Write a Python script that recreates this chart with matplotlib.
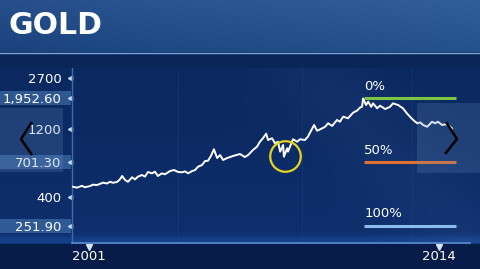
import matplotlib
matplotlib.use("Agg")
import matplotlib.pyplot as plt
import numpy as np
from matplotlib.patches import Rectangle

# --- data (decimal years, USD/oz) ---
years = [2000.41, 2000.55, 2000.74, 2000.85, 2001.04, 2001.15, 2001.30, 2001.52, 2001.67, 2001.78,
         2001.89, 2002.04, 2002.15, 2002.23, 2002.34, 2002.45, 2002.60, 2002.71, 2002.82, 2002.97,
         2003.08, 2003.19, 2003.34, 2003.45, 2003.56, 2003.71, 2003.82, 2004.01, 2004.16, 2004.31,
         2004.45, 2004.57, 2004.68, 2004.83, 2004.94, 2005.05, 2005.20, 2005.31, 2005.42, 2005.53,
         2005.64, 2005.76, 2005.87, 2005.98, 2006.13, 2006.35, 2006.61, 2006.79, 2006.91, 2007.09,
         2007.24, 2007.35, 2007.46, 2007.58, 2007.65, 2007.80, 2007.91, 2008.02, 2008.10, 2008.21,
         2008.24, 2008.36, 2008.39, 2008.54, 2008.58, 2008.73, 2008.84, 2009.02, 2009.13, 2009.36,
         2009.47, 2009.58, 2009.77, 2009.88, 2010.03, 2010.21, 2010.32, 2010.44, 2010.62, 2010.81,
         2010.96, 2011.07, 2011.14, 2011.18, 2011.29, 2011.37, 2011.48, 2011.55, 2011.70, 2011.81,
         2012.00, 2012.18, 2012.29, 2012.48, 2012.66, 2012.81, 2012.92, 2013.04, 2013.19, 2013.30,
         2013.41, 2013.56, 2013.74, 2013.85, 2013.96, 2014.11, 2014.23, 2014.34, 2014.48]
prices = [473, 466, 480, 469, 478, 489, 486, 505, 498, 512,
          504, 510, 532, 562, 527, 512, 550, 532, 556, 571,
          556, 599, 586, 602, 562, 586, 577, 608, 618, 599,
          596, 605, 586, 608, 618, 652, 670, 714, 717, 774,
          862, 749, 786, 726, 749, 774, 799, 761, 786, 852,
          898, 973, 1028, 1106, 1000, 1028, 948, 973, 830, 923,
          765, 876, 830, 973, 1012, 973, 1012, 1000, 1055, 1272,
          1160, 1185, 1236, 1307, 1252, 1378, 1340, 1454, 1416, 1550,
          1604, 1684, 1702, 1945, 1752, 1850, 1702, 1800, 1662, 1733,
          1643, 1702, 1800, 1752, 1662, 1530, 1453, 1378, 1307, 1325,
          1272, 1236, 1340, 1307, 1340, 1272, 1285, 1272, 1208]

ytick_vals = [2700, 1952.60, 1200, 701.30, 400, 251.90]
ytick_labels = ['2700', '1,952.60', '1200', '701.30', '400', '251.90']
highlighted = ['1,952.60', '701.30', '251.90']
xtick_vals = [2001, 2014]
xtick_labels = ['2001', '2014']

fib_levels = [1952.60, 701.30, 251.90]
fib_labels = ['0%', '50%', '100%']
fib_colors = ['#7cc443', '#e0702c', '#8cbcec']
fib_start, fib_end = 2011.22, 2014.63

circle_year, circle_price = 2008.28, 780

W, H = 480, 269
fig = plt.figure(figsize=(W / 100, H / 100), dpi=100)

# --- background layer in pixel coordinates ---
bg = fig.add_axes([0, 0, 1, 1])
bg.set_xlim(0, W)
bg.set_ylim(H, 0)
bg.axis('off')

yy, xx = np.mgrid[0:H, 0:W]
top = np.array([0x0a, 0x26, 0x5c]) / 255
mid = np.array([0x0e, 0x30, 0x6e]) / 255
t = (yy / H)[..., None]
img = top * (1 - t) + mid * t
# soft diagonal sheen
sheen = np.exp(-((xx - 0.9 * yy - 250) / 60.0) ** 2)[..., None] * 0.025
# faint glow just above the time axis
glow = np.exp(-((yy - 240) / 5.0) ** 2)[..., None] * np.array([0.03, 0.07, 0.12])
img = np.clip(img + sheen + glow, 0, 1)
bg.imshow(img, extent=[0, W, H, 0], aspect='auto', zorder=0)

# title bar
tb = np.zeros((52, W, 3))
c1 = np.array([0x1a, 0x43, 0x7e]) / 255
c2 = np.array([0x24, 0x52, 0x8c]) / 255
s = (np.arange(W) / W)[None, :, None]
tb[:] = c1 * (1 - s) + c2 * s
tb = tb + np.linspace(0.05, 0.0, 52)[:, None, None]
bg.imshow(np.clip(tb, 0, 1), extent=[0, W, 52, 0], aspect='auto', zorder=1)
bg.plot([0, W], [52.5, 52.5], color='#7aa6d8', lw=1.0, zorder=2)
bg.add_patch(Rectangle((0, 53), W, 14, color='#0a2558', zorder=1))
# bottom strip
bg.add_patch(Rectangle((0, 244), W, 25, color='#071c48', zorder=1))
bg.text(9, 26, 'GOLD', color='white', fontsize=21.5, fontweight='bold',
        va='center', ha='left', zorder=3)

# --- main chart ---
ax = fig.add_axes([72 / W, 1 - 243 / H, 398 / W, 175 / H])
ax.set_facecolor('none')
ax.set_yscale('log')
ax.set_ylim(192, 3170)
ax.set_xlim(2000.37, 2015.15)

ax.plot(years, prices, color='white', lw=1.4, zorder=4)

ax.set_yticks(ytick_vals)
ax.set_yticklabels(ytick_labels)
ax.yaxis.set_minor_locator(matplotlib.ticker.NullLocator())
ax.set_xticks(xtick_vals)
ax.set_xticklabels(xtick_labels)
ax.tick_params(axis='y', length=0, pad=7.5, labelcolor='white', labelsize=9.5)
ax.tick_params(axis='x', length=0, pad=5, labelcolor='white', labelsize=9.5)

for sp in ['top', 'right']:
    ax.spines[sp].set_visible(False)
ax.spines['left'].set_color('#3d6bab')
ax.spines['bottom'].set_color('#5c8ccc')
ax.spines['left'].set_linewidth(1)
ax.spines['bottom'].set_linewidth(1.2)

# faint vertical grid
for gx in [2004.3, 2008.9, 2013.0]:
    ax.axvline(gx, color='#2a4f8c', lw=0.6, alpha=0.3, zorder=1)

# tick triangles
ax.plot([-0.006] * len(ytick_vals), ytick_vals, marker='<', ls='none', ms=3,
        color='#c8d8f0', transform=ax.get_yaxis_transform(), clip_on=False)
ax.plot(xtick_vals, [-0.02] * len(xtick_vals), marker='v', ls='none', ms=4,
        color='#d8e4f4', transform=ax.get_xaxis_transform(), clip_on=False)

# highlight boxes behind some y labels
for v, lab in zip(ytick_vals, ytick_labels):
    if lab in highlighted:
        py = 78 + (np.log10(2700) - np.log10(v)) * 143.7
        bg.add_patch(Rectangle((0, py - 7), 71, 14, color='#4d7fb8', alpha=0.55,
                               lw=0, zorder=2))

# fibonacci levels
for lvl, lab, col in zip(fib_levels, fib_labels, fib_colors):
    ax.plot([fib_start, fib_end], [lvl, lvl], color=col, lw=2.2, solid_capstyle='butt', zorder=3)
    ax.annotate(lab, (fib_start, lvl), xytext=(0, 4), textcoords='offset points',
                color='white', fontsize=9.5, ha='left', va='bottom')

# yellow circle
ax.plot([circle_year], [circle_price], marker='o', ms=22, mfc='none', mec='#e8d41c',
        mew=1.6, zorder=5)

# --- overlay navigation panels ---
ov = fig.add_axes([0, 0, 1, 1])
ov.set_xlim(0, W)
ov.set_ylim(H, 0)
ov.axis('off')
ov.patch.set_alpha(0)
ov.add_patch(Rectangle((0, 108), 63, 64, color='#6a8fc0', alpha=0.22, lw=0))
ov.add_patch(Rectangle((417, 103), 63, 70, color='#6a8fc0', alpha=0.22, lw=0))
ov.plot([32, 21, 32], [122, 139, 155], color='black', lw=1.8, solid_capstyle='butt')
ov.plot([446, 457, 445], [122, 139, 154], color='black', lw=1.8, solid_capstyle='butt')

fig.savefig('out.png', dpi=100)
